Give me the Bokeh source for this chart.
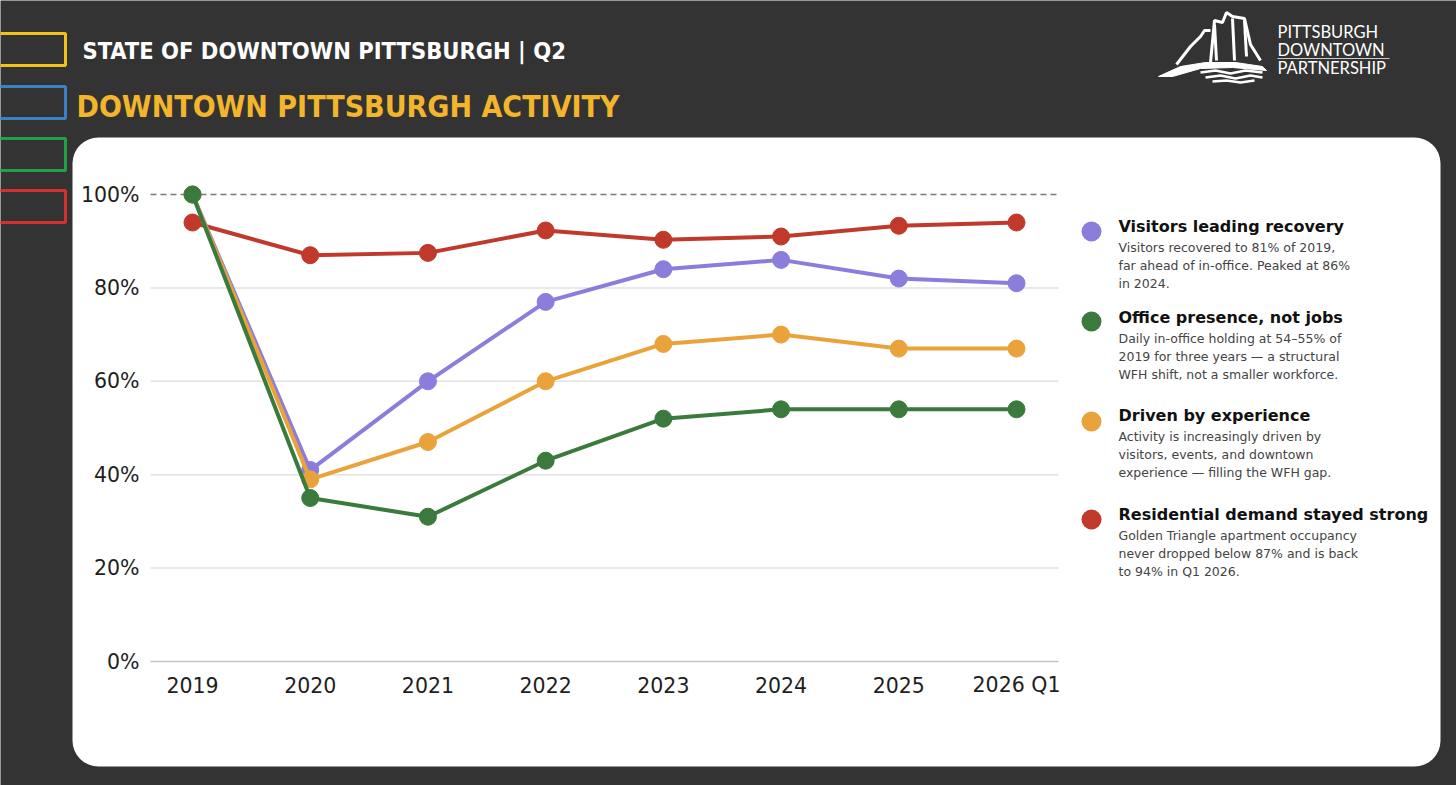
from bokeh.plotting import figure
from bokeh.models import Range1d
from bokeh.core.properties import value
from bokeh.embed import file_html
from bokeh.resources import INLINE

# data
categories = ["2019", "2020", "2021", "2022", "2023", "2024", "2025", "2026 Q1"]
residential = [94, 87, 87.5, 92.3, 90.3, 91, 93.3, 94]
visitors = [100, 41, 60, 77, 84, 86, 82, 81]
experience = [100, 39, 47, 60, 68, 70, 67, 67]
office = [100, 35, 31, 43, 52, 54, 54, 54]
y_ticks = [0, 20, 40, 60, 80, 100]

legend_titles = ["Visitors leading recovery", "Office presence, not jobs",
                 "Driven by experience", "Residential demand stayed strong"]
legend_text = [
    ["Visitors recovered to 81% of 2019,", "far ahead of in-office. Peaked at 86%", "in 2024."],
    ["Daily in-office holding at 54\u201355% of", "2019 for three years \u2014 a structural",
     "WFH shift, not a smaller workforce."],
    ["Activity is increasingly driven by", "visitors, events, and downtown",
     "experience \u2014 filling the WFH gap."],
    ["Golden Triangle apartment occupancy", "never dropped below 87% and is back",
     "to 94% in Q1 2026."],
]

PURPLE, ORANGE, GREEN, RED = "#8a7ddc", "#e9a33a", "#3b7a3d", "#c0392b"
BG = "#333333"
FONT = value("DejaVu Sans")
HEAD_FONT = value("'DejaVu Sans Condensed', 'Roboto Condensed', Roboto")

W, H = 1456, 785
p = figure(width=W, height=H, output_backend="svg", toolbar_location=None,
           x_range=Range1d(0, W), y_range=Range1d(H, 0),
           x_axis_location=None, y_axis_location=None, min_border=0,
           outline_line_color=None, background_fill_color=BG, border_fill_color=BG)
p.xgrid.visible = False
p.ygrid.visible = False

# chart ranges: category index / percent mapped into the card
X0, DX = 192, (1016 - 192) / 7
Y0, DY = 661, (661 - 194) / 100
p.extra_x_ranges = {"cx": Range1d((0 - X0) / DX, (W - X0) / DX)}
p.extra_y_ranges = {"cy": Range1d((Y0 - H) / DY, (Y0 - 0) / DY)}

# left colour boxes + header
box_cols = ["#f1c21b", "#3b82c4", "#22a045", "#d62f2f"]
p.quad(left=-10, right=65, top=[33, 86, 138, 190], bottom=[65, 118, 170, 222],
       fill_color=None, line_color=box_cols, line_width=3)
p.text(x=[82], y=[50], text=["STATE OF DOWNTOWN PITTSBURGH | Q2"],
       text_font=HEAD_FONT, text_font_style="bold",
       text_font_size="23.5px", text_color="white", text_baseline="middle")
p.text(x=[76], y=[106], text=["DOWNTOWN PITTSBURGH ACTIVITY"],
       text_font=HEAD_FONT, text_font_style="bold",
       text_font_size="30px", text_color="#f2b52b", text_baseline="middle")

# logo (rough)
p.patch([1158, 1180, 1205, 1235, 1262, 1266, 1232, 1200, 1172],
        [76, 66, 62, 62, 66, 70, 67, 68, 76], color="white")
p.multi_line([[1210, 1214, 1222, 1226, 1232, 1244, 1250, 1260],
              [1176, 1190, 1200, 1204, 1210],
              [1214, 1216], [1232, 1234], [1244, 1246]],
             [[62, 20, 22, 12, 16, 18, 44, 60],
              [64, 46, 36, 30, 30],
              [24, 60], [18, 60], [20, 56]],
             line_color="white", line_width=3)
p.multi_line([[1200, 1215, 1230, 1245, 1262], [1205, 1220, 1235, 1250, 1262],
              [1212, 1226, 1240, 1254]],
             [[72, 70, 73, 70, 72], [77, 75, 78, 75, 77], [81, 80, 82, 80]],
             line_color="white", line_width=2.5)
p.text(x=1277, y=[31, 49, 67], text=["PITTSBURGH", "DOWNTOWN", "PARTNERSHIP"],
       text_font=value("Lato"), text_font_size="16.5px", text_color="white",
       text_baseline="middle")
p.segment(x0=[1277], y0=[58], x1=[1389], y1=[58], line_color="#cccccc", line_width=1)

# white card
p.quad(left=72, right=1440, top=137, bottom=766, fill_color="white",
       line_color=None, border_radius=26)

# grid lines
idx = list(range(len(categories)))
PAD = 0.357
grid_y = [t for t in y_ticks if 0 < t < 100]
p.segment(x0=-PAD, x1=idx[-1] + PAD, y0=grid_y, y1=grid_y, line_color="#e2e2e2",
          line_width=1.5, x_range_name="cx", y_range_name="cy")
p.segment(x0=-PAD, x1=idx[-1] + PAD, y0=[y_ticks[0]], y1=[y_ticks[0]], line_color="#c4c4c4",
          line_width=1.5, x_range_name="cx", y_range_name="cy")
p.segment(x0=-PAD, x1=idx[-1] + PAD, y0=[y_ticks[-1]], y1=[y_ticks[-1]], line_color="#7a7a7a",
          line_width=1.3, line_dash="6 4", x_range_name="cx", y_range_name="cy")

# tick labels
p.text(x=139, y=y_ticks, text=[f"{t}%" for t in y_ticks], y_range_name="cy",
       text_font=FONT, text_font_size="20.5px", text_color="#1e1e1e",
       text_align="right", text_baseline="middle")
p.text(x=idx, y=684, text=categories, x_range_name="cx",
       text_font=FONT, text_font_size="20.5px", text_color="#1e1e1e",
       text_align="center", text_baseline="middle")

# series
for vals, col in [(residential, RED), (visitors, PURPLE), (experience, ORANGE), (office, GREEN)]:
    p.line(idx, vals, line_color=col, line_width=4, x_range_name="cx", y_range_name="cy")
    p.scatter(idx, vals, size=17, fill_color=col, line_color=col,
              x_range_name="cx", y_range_name="cy")

# side legend
leg_y = [231, 321, 421, 519]
title_y = [226, 317, 415, 514]
p.scatter(x=1091, y=leg_y, size=20, fill_color=[PURPLE, GREEN, ORANGE, RED], line_color=None)
p.text(x=1118, y=title_y, text=legend_titles, text_font=FONT, text_font_style="bold",
       text_font_size="16px", text_color="#111111", text_baseline="middle")
for ty, lines in zip(title_y, legend_text):
    p.text(x=1118, y=[ty + 21 + 18 * i for i in range(len(lines))], text=lines,
           text_font=FONT, text_font_size="12.5px", text_color="#444444",
           text_baseline="middle")

open("out.html", "w").write(file_html(p, INLINE))
